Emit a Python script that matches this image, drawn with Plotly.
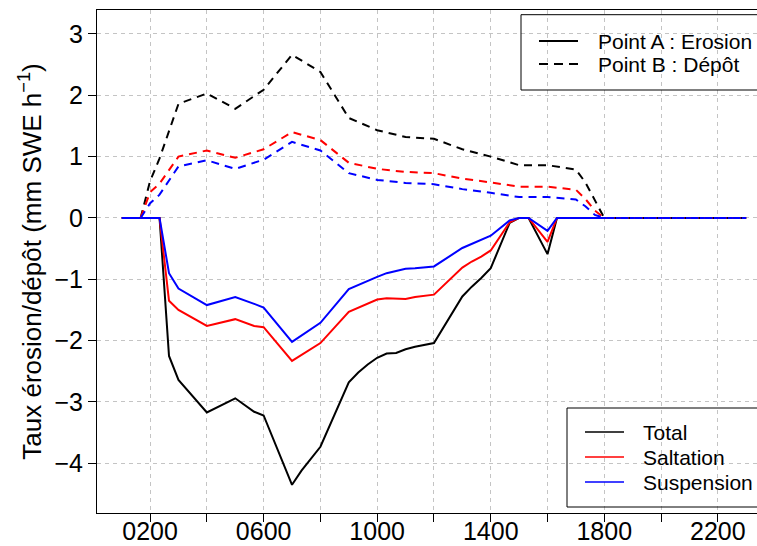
import plotly.graph_objects as go

# Point A (erosion) : times where the curves change slope, values in mm SWE h-1
times_a = ["01:00", "02:00", "02:20", "02:40", "03:00", "04:00", "05:00", "05:40",
           "06:00", "07:00", "07:20", "08:00", "09:00", "09:20", "09:40", "10:00",
           "10:20", "10:40", "11:00", "11:20", "11:40", "12:00", "13:00", "13:20",
           "13:40", "14:00", "14:40", "15:00", "15:20", "16:00", "16:20", "23:00"]
total_a = [0, 0, 0, -2.25, -2.64, -3.17, -2.94, -3.16,
           -3.22, -4.35, -4.12, -3.73, -2.68, -2.52, -2.39, -2.28,
           -2.21, -2.20, -2.14, -2.10, -2.07, -2.04, -1.28, -1.12,
           -0.98, -0.82, -0.08, 0, 0, -0.59, 0, 0]
saltation_a = [0, 0, 0, -1.35, -1.50, -1.76, -1.65, -1.76,
               -1.78, -2.33, -2.23, -2.04, -1.53, -1.46, -1.39, -1.33,
               -1.31, -1.32, -1.32, -1.29, -1.27, -1.25, -0.81, -0.71,
               -0.63, -0.53, -0.07, 0, 0, -0.39, 0, 0]
suspension_a = [0, 0, 0, -0.90, -1.15, -1.42, -1.29, -1.40,
                -1.46, -2.02, -1.92, -1.71, -1.16, -1.09, -1.02, -0.96,
                -0.90, -0.86, -0.83, -0.82, -0.81, -0.79, -0.49, -0.42,
                -0.36, -0.29, -0.04, 0, 0, -0.21, 0, 0]

# Point B (deposition)
times_b = ["01:40", "02:00", "02:20", "02:40", "03:00", "04:00", "05:00", "06:00",
           "07:00", "08:00", "09:00", "10:00", "11:00", "12:00", "13:00", "14:00",
           "15:00", "16:00", "16:40", "17:00", "17:20", "17:40", "18:00", "23:00"]
total_b = [0, 0.60, 0.97, 1.40, 1.86, 2.03, 1.78, 2.09,
           2.66, 2.38, 1.63, 1.43, 1.32, 1.29, 1.12, 1.00,
           0.86, 0.86, 0.82, 0.79, 0.58, 0.28, 0, 0]
saltation_b = [0, 0.42, 0.56, 0.78, 1.00, 1.10, 0.98, 1.12,
               1.40, 1.27, 0.90, 0.80, 0.75, 0.73, 0.64, 0.58,
               0.51, 0.51, 0.48, 0.46, 0.31, 0.12, 0, 0]
suspension_b = [0, 0.24, 0.38, 0.60, 0.84, 0.94, 0.80, 0.95,
                1.24, 1.10, 0.73, 0.62, 0.57, 0.55, 0.47, 0.41,
                0.34, 0.34, 0.31, 0.30, 0.19, 0.05, 0, 0]

tick_hours = [2, 4, 6, 8, 10, 12, 14, 16, 18, 20, 22]
tick_text = ["0200", "", "0600", "", "1000", "", "1400", "", "1800", "", "2200"]

point_labels = ["Point A : Erosion", "Point B : Dépôt"]
flux_labels = ["Total", "Saltation", "Suspension"]
flux_colors = ["#000000", "#ff0000", "#0000ff"]


def to_hours(t):
    h, m = t.split(":")
    return int(h) + int(m) / 60


xa = [to_hours(t) for t in times_a]
xb = [to_hours(t) for t in times_b]

# plot area in pixels
W, H = 757, 546
L, R, T, B = 97, 757, 10, 513


def px(x):
    return (x - L) / (R - L)


def py(y):
    return (B - y) / (B - T)


font = "Liberation Sans, Arial, sans-serif"
fig = go.Figure()

for ys, col in zip([total_a, saltation_a, suspension_a], flux_colors):
    fig.add_trace(go.Scatter(x=xa, y=ys, mode="lines", showlegend=False,
                             line=dict(color=col, width=2)))
for ys, col in zip([total_b, saltation_b, suspension_b], flux_colors):
    fig.add_trace(go.Scatter(x=xb, y=ys, mode="lines", showlegend=False,
                             line=dict(color=col, width=2, dash="8px,6px")))

shapes = []
annotations = []

# legend 1 : points
shapes.append(dict(type="rect", xref="paper", yref="paper",
                   x0=px(521), x1=px(762), y0=py(90), y1=py(14.7),
                   line=dict(color="black", width=1)))
for i, (lab, dash) in enumerate(zip(point_labels, ["solid", "9px,6px"])):
    yy = 41 + i * 23
    shapes.append(dict(type="line", xref="paper", yref="paper",
                       x0=px(539), x1=px(578), y0=py(yy), y1=py(yy),
                       line=dict(color="black", width=2, dash=dash)))
    annotations.append(dict(text=lab, xref="paper", yref="paper", x=px(596), y=py(yy),
                            xanchor="left", yanchor="middle", showarrow=False,
                            font=dict(size=21, color="black", family=font)))

# legend 2 : fluxes
shapes.append(dict(type="rect", xref="paper", yref="paper",
                   x0=px(567), x1=px(762), y0=py(507), y1=py(408),
                   line=dict(color="black", width=1)))
for i, (lab, col) in enumerate(zip(flux_labels, flux_colors)):
    yy = 432 + i * 25
    shapes.append(dict(type="line", xref="paper", yref="paper",
                       x0=px(585), x1=px(624), y0=py(yy), y1=py(yy),
                       line=dict(color=col, width=1.3)))
    annotations.append(dict(text=lab, xref="paper", yref="paper", x=px(641), y=py(yy),
                            xanchor="left", yanchor="middle", showarrow=False,
                            font=dict(size=21, color="black", family=font)))

fig.update_layout(
    width=W, height=H,
    margin=dict(l=L, r=W - R, t=T, b=H - B, autoexpand=False),
    paper_bgcolor="white", plot_bgcolor="white",
    font=dict(family=font, color="black", size=25),
    shapes=shapes, annotations=annotations,
    showlegend=False,
)
fig.update_xaxes(
    range=[0.13, 23.38], tickvals=tick_hours, ticktext=tick_text,
    ticks="outside", ticklen=8, tickcolor="black", tickfont=dict(size=25),
    ticklabelstandoff=-12,
    showline=True, linecolor="black", linewidth=1, mirror=True, automargin=False,
    showgrid=True, gridcolor="#c4c4c4", griddash="4px,4px", zeroline=False,
)
fig.update_yaxes(
    range=[-4.81, 3.39], tickvals=[-4, -3, -2, -1, 0, 1, 2, 3],
    ticks="outside", ticklen=8, tickcolor="black", tickfont=dict(size=25),
    showline=True, linecolor="black", linewidth=1, automargin=False,
    showgrid=True, gridcolor="#c4c4c4", griddash="4px,4px", zeroline=False,
    title=dict(text="Taux érosion/dépôt (mm SWE h<sup>−1</sup>)", font=dict(size=26),
               standoff=5),
)

fig.write_html("out.html", config={"displayModeBar": False},
               post_script="document.body.style.margin='0px';")
